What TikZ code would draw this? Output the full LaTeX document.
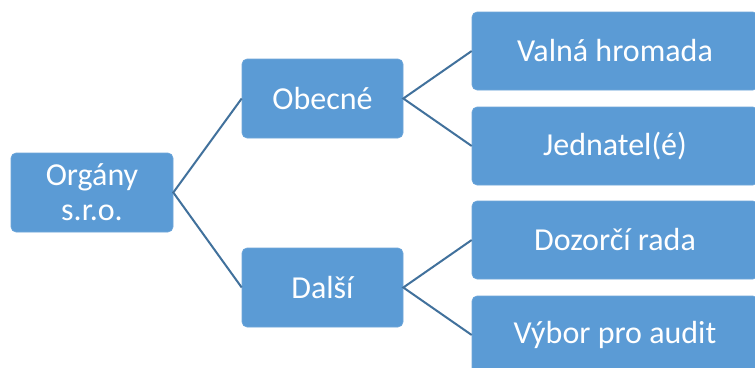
\documentclass[tikz,border=0pt]{standalone}
\usepackage{fontspec}
\setmainfont{Carlito}
\definecolor{boxfill}{HTML}{5B9BD5}
\definecolor{boxline}{HTML}{6FA7DA}
\definecolor{conn}{HTML}{41719C}
\begin{document}
\begin{tikzpicture}[x=1pt,y=-1pt,
  orgbox/.style={rectangle, rounded corners=5pt, fill=boxfill, draw=boxline, line width=0.6pt,
    text=white, font=\fontsize{32}{35}\selectfont, align=center, inner sep=0pt},
  conline/.style={draw=conn, line width=2pt}]
\clip (0,0) rectangle (755,367);
\fill[white] (0,0) rectangle (755,367);
\node[orgbox, minimum width=162pt, minimum height=79pt] (root) at (92,192.5) {Orgány\\s.r.o.};
\node[orgbox, minimum width=161pt, minimum height=79pt] (obec) at (322.5,98.5) {Obecné};
\node[orgbox, minimum width=161pt, minimum height=79pt] (dalsi) at (322.5,287.5) {Další};
\node[orgbox, minimum width=286pt, minimum height=78pt] (valna) at (615,51) {Valná hromada};
\node[orgbox, minimum width=286pt, minimum height=78pt] (jedn) at (615,146) {Jednatel(é)};
\node[orgbox, minimum width=286pt, minimum height=78pt] (dozor) at (615,240) {Dozorčí rada};
\node[orgbox, minimum width=286pt, minimum height=78pt] (vybor) at (615,335) {Výbor pro audit};
\draw[conline] (obec.west) -- (root.east) -- (dalsi.west);
\draw[conline] (valna.west) -- (obec.east) -- (jedn.west);
\draw[conline] (dozor.west) -- (dalsi.east) -- (vybor.west);
\end{tikzpicture}
\end{document}
